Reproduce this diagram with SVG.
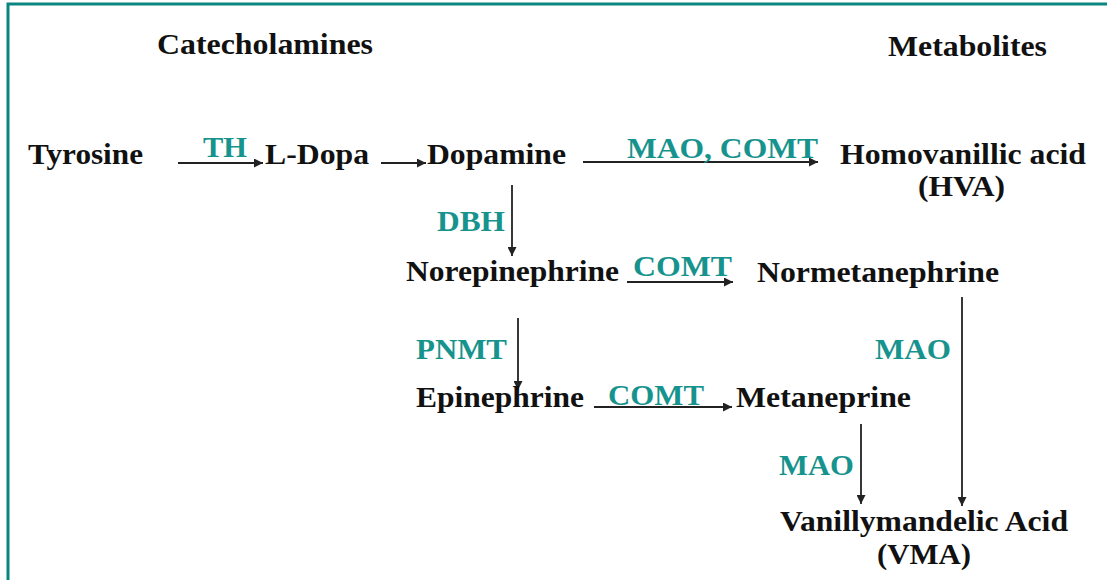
<svg xmlns="http://www.w3.org/2000/svg" width="1107" height="580" viewBox="0 0 1107 580">
<style>
.t{font-family:"Liberation Serif","Times New Roman",serif;font-weight:bold;font-size:30px;fill:#111}
.e{font-family:"Liberation Serif","Times New Roman",serif;font-weight:bold;font-size:30px;fill:#17938e}
.c{stroke:#222;stroke-width:1.8;fill:none;marker-end:url(#ah)}
</style>
<defs>
<marker id="ah" viewBox="0 0 10 10" refX="10" refY="5" markerWidth="11" markerHeight="9" markerUnits="userSpaceOnUse" orient="auto"><path d="M0,0L10,5L0,10z" fill="#222"/></marker>
</defs>
<rect width="1107" height="580" fill="#fff"/>
<path d="M8,580V4H1107" stroke="#0a8580" stroke-width="3" fill="none"/>
<g id="headers">
<text class="t" x="157" y="54" textLength="216" lengthAdjust="spacingAndGlyphs">Catecholamines</text>
<text class="t" x="888" y="56" textLength="159" lengthAdjust="spacingAndGlyphs">Metabolites</text>
</g>
<g id="connectors">
<line class="c" x1="178" y1="163" x2="263" y2="163"/>
<line class="c" x1="381" y1="163" x2="426" y2="163"/>
<line class="c" x1="583" y1="162" x2="818" y2="162"/>
<line class="c" x1="512" y1="185" x2="512" y2="256"/>
<line class="c" x1="627" y1="282" x2="733" y2="282"/>
<line class="c" x1="518" y1="318" x2="518" y2="390"/>
<line class="c" x1="594" y1="407" x2="732" y2="407"/>
<line class="c" x1="962" y1="297" x2="962" y2="506"/>
<line class="c" x1="861" y1="424" x2="861" y2="504"/>
</g>
<g id="enzymes">
<text class="e" x="203" y="157" textLength="44" lengthAdjust="spacingAndGlyphs">TH</text>
<text class="e" x="627" y="158" textLength="191" lengthAdjust="spacingAndGlyphs">MAO, COMT</text>
<text class="e" x="437" y="231" textLength="68" lengthAdjust="spacingAndGlyphs">DBH</text>
<text class="e" x="633" y="276" textLength="99" lengthAdjust="spacingAndGlyphs">COMT</text>
<text class="e" x="416" y="359" textLength="91" lengthAdjust="spacingAndGlyphs">PNMT</text>
<text class="e" x="608" y="405" textLength="96" lengthAdjust="spacingAndGlyphs">COMT</text>
<text class="e" x="875" y="359" textLength="76" lengthAdjust="spacingAndGlyphs">MAO</text>
<text class="e" x="779" y="475" textLength="75" lengthAdjust="spacingAndGlyphs">MAO</text>
</g>
<g id="tyrosine"><text class="t" x="28" y="164" textLength="115" lengthAdjust="spacingAndGlyphs">Tyrosine</text></g>
<g id="ldopa"><text class="t" x="265" y="164" textLength="104" lengthAdjust="spacingAndGlyphs">L-Dopa</text></g>
<g id="dopamine"><text class="t" x="427" y="164" textLength="139" lengthAdjust="spacingAndGlyphs">Dopamine</text></g>
<g id="hva">
<text class="t" x="840" y="164" textLength="246" lengthAdjust="spacingAndGlyphs">Homovanillic acid</text>
<text class="t" x="918" y="196" textLength="87" lengthAdjust="spacingAndGlyphs">(HVA)</text>
</g>
<g id="norepinephrine"><text class="t" x="406" y="281" textLength="213" lengthAdjust="spacingAndGlyphs">Norepinephrine</text></g>
<g id="normetanephrine"><text class="t" x="757" y="282" textLength="242" lengthAdjust="spacingAndGlyphs">Normetanephrine</text></g>
<g id="epinephrine"><text class="t" x="416" y="407" textLength="168" lengthAdjust="spacingAndGlyphs">Epinephrine</text></g>
<g id="metaneprine"><text class="t" x="736" y="407" textLength="175" lengthAdjust="spacingAndGlyphs">Metaneprine</text></g>
<g id="vma">
<text class="t" x="780" y="531" textLength="288" lengthAdjust="spacingAndGlyphs">Vanillymandelic Acid</text>
<text class="t" x="877" y="564" textLength="94" lengthAdjust="spacingAndGlyphs">(VMA)</text>
</g>
</svg>
